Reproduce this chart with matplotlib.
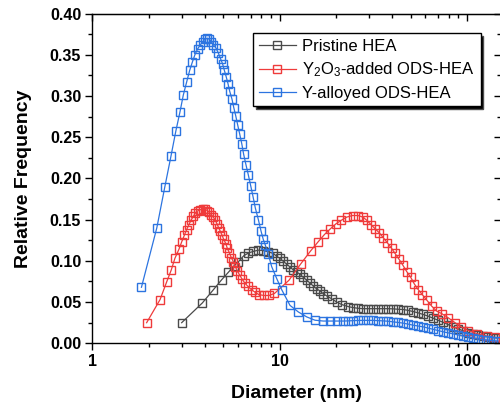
import matplotlib
matplotlib.use("Agg")
import matplotlib.pyplot as plt
from matplotlib.ticker import (FixedLocator, LogLocator, NullFormatter,
                               MultipleLocator, FormatStrFormatter)

plt.rcParams['font.family'] = ['Liberation Sans', 'DejaVu Sans']
plt.rcParams['mathtext.default'] = 'regular'

# ---- data ----
pristine_d = [3.00, 3.87, 4.43, 4.90, 5.32, 5.71, 6.03, 6.42, 6.81, 7.24, 7.70,
              8.18, 8.70, 9.25, 9.65, 10.05, 10.46, 10.91, 11.36, 11.83, 12.34,
              12.85, 13.38, 13.96, 14.54, 15.13, 15.78, 16.43, 17.11, 17.97,
              18.97, 20.18, 21.46, 23.27, 24.66, 26.22, 27.87, 29.64, 31.52,
              33.52, 35.65, 37.91, 40.31, 42.87, 45.59, 48.48, 51.55, 54.81,
              58.29, 61.99, 65.93, 70.08, 74.54, 79.26, 84.29, 89.64, 95.32,
              101.4, 107.8, 114.6, 121.9, 129.6, 137.9, 146.6]
pristine_f = [0.025, 0.049, 0.065, 0.077, 0.086, 0.094, 0.099, 0.106, 0.1095,
              0.1115, 0.113, 0.1125, 0.111, 0.109, 0.1056, 0.103, 0.0995, 0.096,
              0.0926, 0.089, 0.0865, 0.0837, 0.080, 0.0765, 0.073, 0.0695, 0.066,
              0.0635, 0.060, 0.057, 0.054, 0.050, 0.047, 0.0445, 0.0433, 0.0425,
              0.042, 0.042, 0.042, 0.042, 0.042, 0.042, 0.0418, 0.0413, 0.041,
              0.040, 0.0385, 0.037, 0.035, 0.033, 0.0305, 0.028, 0.0255, 0.0228,
              0.020, 0.0175, 0.0152, 0.013, 0.0113, 0.0098, 0.0087, 0.0078,
              0.007, 0.0063]

oxide_d = [1.95, 2.30, 2.49, 2.64, 2.76, 2.90, 3.00, 3.10, 3.19, 3.28, 3.36,
           3.46, 3.55, 3.65, 3.76, 3.89, 4.00, 4.11, 4.21, 4.32, 4.43, 4.54,
           4.63, 4.73, 4.82, 4.93, 5.03, 5.16, 5.26, 5.39, 5.52, 5.66, 5.80,
           5.94, 6.11, 6.30, 6.52, 6.78, 7.08, 7.39, 7.76, 8.26, 8.78, 9.39,
           11.22, 12.93, 14.63, 16.04, 17.36, 18.69, 20.00, 21.27, 22.76,
           24.50, 26.22, 27.87, 29.28, 30.75, 32.31, 34.06, 35.78, 37.58,
           39.67, 41.31, 43.39, 45.42, 47.70, 50.12, 52.38, 54.99, 57.79,
           61.23, 64.88, 68.99, 73.35, 79.4, 86.38, 93.0, 101.7, 112.8, 127.6,
           141.3, 155.8]
oxide_f = [0.025, 0.053, 0.074, 0.089, 0.103, 0.114, 0.123, 0.131, 0.138,
           0.144, 0.149, 0.154, 0.158, 0.1605, 0.162, 0.163, 0.1625, 0.161,
           0.159, 0.156, 0.153, 0.149, 0.145, 0.140, 0.136, 0.131, 0.126, 0.121,
           0.115, 0.110, 0.104, 0.099, 0.093, 0.088, 0.083, 0.078, 0.073, 0.069,
           0.065, 0.062, 0.059, 0.058, 0.058, 0.0605, 0.0765, 0.096, 0.112,
           0.123, 0.132, 0.139, 0.145, 0.149, 0.153, 0.155, 0.155, 0.153, 0.149,
           0.144, 0.139, 0.134, 0.128, 0.122, 0.115, 0.109, 0.102, 0.095, 0.087,
           0.080, 0.072, 0.065, 0.059, 0.052, 0.045, 0.039, 0.036, 0.031, 0.025,
           0.020, 0.0155, 0.0118, 0.0088, 0.0072, 0.006]

alloyed_d = [1.83, 2.21, 2.44, 2.63, 2.79, 2.94, 3.06, 3.19, 3.31, 3.42, 3.53,
             3.65, 3.77, 3.90, 4.00, 4.11, 4.21, 4.32, 4.43, 4.58, 4.71, 4.84,
             4.96, 5.07, 5.19, 5.30, 5.41, 5.57, 5.69, 5.83, 5.97, 6.12, 6.28,
             6.43, 6.62, 6.81, 7.01, 7.21, 7.42, 7.70, 7.96, 8.18, 8.39, 8.70,
             9.07, 9.65, 10.26, 11.36, 12.59, 13.96, 15.45, 17.11, 18.58, 20.18,
             21.88, 23.27, 24.66, 26.22, 27.87, 29.64, 31.52, 33.52, 35.65,
             37.91, 40.31, 42.87, 45.59, 48.48, 51.55, 54.81, 58.29, 61.99,
             65.93, 70.08, 74.54, 79.26, 84.29, 89.64, 95.32, 101.4, 107.8,
             114.6, 121.9, 129.6, 137.9, 146.6]
alloyed_f = [0.068, 0.140, 0.190, 0.227, 0.257, 0.281, 0.301, 0.317, 0.331,
             0.341, 0.350, 0.357, 0.362, 0.366, 0.369, 0.370, 0.369, 0.366,
             0.362, 0.358, 0.352, 0.345, 0.339, 0.331, 0.323, 0.315, 0.306,
             0.296, 0.286, 0.276, 0.265, 0.254, 0.242, 0.229, 0.216, 0.204,
             0.191, 0.178, 0.164, 0.150, 0.136, 0.126, 0.119, 0.108, 0.093,
             0.0785, 0.065, 0.046, 0.038, 0.032, 0.028, 0.027, 0.027, 0.027,
             0.027, 0.0272, 0.0275, 0.0277, 0.0278, 0.0278, 0.0278, 0.0275,
             0.0272, 0.0268, 0.026, 0.0253, 0.0245, 0.0233, 0.022, 0.021, 0.020,
             0.0185, 0.017, 0.0155, 0.014, 0.0127, 0.0115, 0.0102, 0.009,
             0.0077, 0.0063, 0.0053, 0.0045, 0.0038, 0.0032, 0.0027]

series = [
    (pristine_d, pristine_f, '#4a4a4a', 'Pristine HEA'),
    (oxide_d, oxide_f, '#ef3b3b', 'Y$_2$O$_3$-added ODS-HEA'),
    (alloyed_d, alloyed_f, '#2c74e0', 'Y-alloyed ODS-HEA'),
]

fig = plt.figure(figsize=(5, 4.07), dpi=100)
ax = fig.add_axes([0.1846, 0.1565, 0.8174, 0.8103])

for d, f, c, lab in series:
    ax.plot(d, f, color=c, lw=0.9, marker='s', ms=5.4, mfc='none',
            mec=c, mew=1.0, label=lab)

ax.set_xscale('log')
ax.set_xlim(1, 152)
ax.set_ylim(0, 0.40)

ax.xaxis.set_major_locator(FixedLocator([1, 10, 100]))
ax.set_xticklabels(['1', '10', '100'])
ax.xaxis.set_minor_locator(LogLocator(base=10, subs=range(2, 10)))
ax.xaxis.set_minor_formatter(NullFormatter())
ax.yaxis.set_major_locator(MultipleLocator(0.05))
ax.yaxis.set_minor_locator(MultipleLocator(0.025))
ax.yaxis.set_major_formatter(FormatStrFormatter('%.2f'))

for s in ax.spines.values():
    s.set_linewidth(1.0)

ax.tick_params(which='major', direction='out', length=5, width=1.0,
               labelsize=11.5, pad=3)
ax.tick_params(which='minor', direction='out', length=2.6, width=1.0)
for t in ax.get_xticklabels() + ax.get_yticklabels():
    t.set_fontweight('bold')

# mirrored ticks on top and right pointing inward
top = ax.secondary_xaxis('top')
top.xaxis.set_major_locator(FixedLocator([1, 10, 100]))
top.xaxis.set_minor_locator(LogLocator(base=10, subs=range(2, 10)))
top.tick_params(which='major', direction='in', length=5, width=1.0, labeltop=False)
top.tick_params(which='minor', direction='in', length=2.6, width=1.0)
top.xaxis.set_minor_formatter(NullFormatter())

right = ax.secondary_yaxis('right')
right.yaxis.set_major_locator(MultipleLocator(0.05))
right.yaxis.set_minor_locator(MultipleLocator(0.025))
right.tick_params(which='major', direction='in', length=5, width=1.0, labelright=False)
right.tick_params(which='minor', direction='in', length=2.6, width=1.0)

ax.set_xlabel('Diameter (nm)', fontsize=14, fontweight='bold')
ax.set_ylabel('Relative Frequency', fontsize=14, fontweight='bold')
ax.xaxis.set_label_coords(0.5, -0.127)
ax.yaxis.set_label_coords(-0.147, 0.5)

leg = ax.legend(loc='upper left', bbox_to_anchor=(0.5066, 0.918),
                bbox_transform=fig.transFigure, fontsize=12, numpoints=1,
                fancybox=False, framealpha=1, edgecolor='black',
                shadow={'facecolor': 'black', 'alpha': 1},
                handlelength=2.2, handletextpad=0.4, borderpad=0.35,
                labelspacing=0.38, borderaxespad=0)
leg.get_frame().set_linewidth(1.0)

fig.savefig('out.png', dpi=100)
